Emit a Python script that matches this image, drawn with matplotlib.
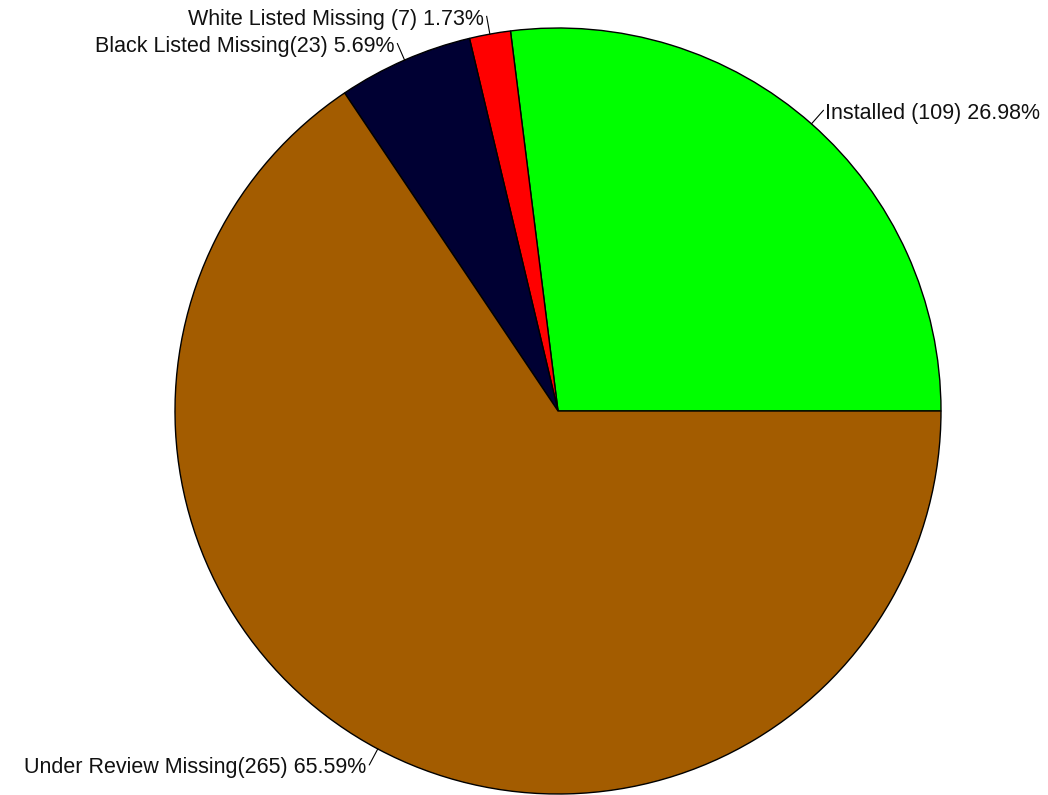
import numpy as np
import matplotlib
matplotlib.use("Agg")
import matplotlib.pyplot as plt

labels = ["Installed (109) 26.98%", "White Listed Missing (7) 1.73%",
          "Black Listed Missing(23) 5.69%", "Under Review Missing(265) 65.59%"]
counts = [109, 7, 23, 265]
colors = ["#00FF00", "#FF0000", "#000033", "#A35C00"]

W, H = 1048, 795
fig = plt.figure(figsize=(W / 100, H / 100), dpi=100)
ax = fig.add_axes([0, 0, 1, 1])

cx, cy, R = 558, H - 411, 383
wedges, _ = ax.pie(counts, colors=colors, startangle=0, counterclock=True,
                   center=(cx, cy), radius=R, frame=True,
                   wedgeprops=dict(edgecolor="black", linewidth=1.0))
ax.set_xlim(0, W)
ax.set_ylim(0, H)
ax.set_aspect("equal")
ax.axis("off")

for w, lab in zip(wedges, labels):
    th = np.deg2rad((w.theta1 + w.theta2) / 2)
    c, s = np.cos(th), np.sin(th)
    x0, y0 = cx + R * c, cy + R * s
    x1, y1 = cx + (R + 18) * c, cy + (R + 18) * s
    ax.plot([x0, x1], [y0, y1], color="black", lw=0.8)
    if c >= 0:
        ax.text(x1 + 2, y1 - 3, lab, ha="left", va="center", fontsize=15.5,
                family="Liberation Sans", color="#111111")
    else:
        ax.text(x1 - 3, y1 - 3, lab, ha="right", va="center", fontsize=15.5,
                family="Liberation Sans", color="#111111")

fig.savefig("out.png", dpi=100, facecolor="white")
